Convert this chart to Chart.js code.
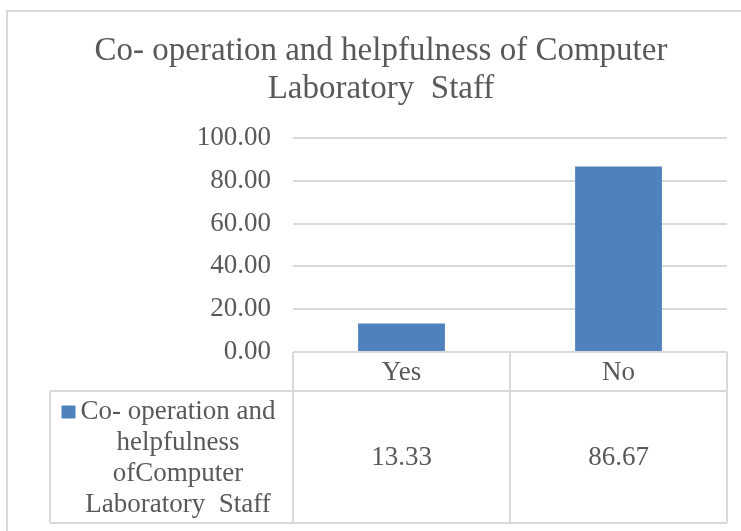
<!DOCTYPE html>
<html>
<head>
<meta charset="utf-8">
<script src="https://cdn.jsdelivr.net/npm/chart.js@4.4.1/dist/chart.umd.min.js"></script>
<style>
  html, body { margin: 0; padding: 0; background: #fff; }
  #wrap { position: relative; width: 741px; height: 531px; overflow: hidden; }
</style>
</head>
<body>
<div id="wrap"><canvas id="chart" width="741" height="531"></canvas></div>
<script>
// 資料
const categories = ['Yes', 'No'];
const seriesName = 'Co- operation and helpfulness of Computer Laboratory  Staff';
const seriesValues = [13.33, 86.67];
const yTicks = [0, 20, 40, 60, 80, 100];
const titleLines = ['Co- operation and helpfulness of Computer', 'Laboratory  Staff'];
const legendLines = ['Co- operation and', 'helpfulness', 'ofComputer', 'Laboratory  Staff'];

const FONT = "'Liberation Serif', 'Times New Roman', serif";
const TEXT = '#595959';
const LINE = '#d9d9d9';
const BAR = '#4f81bd';

// 外框、標題 + 資料表
const tablePlugin = {
    id: 'dataTable',
    beforeDraw(chart) {
        const ctx = chart.ctx;
        ctx.save();
        ctx.strokeStyle = LINE;
        ctx.lineWidth = 2;
        ctx.strokeRect(7, 11, 760, 540);

        // 標題（圖框延伸到畫面右外側，所以中心偏右）
        ctx.fillStyle = TEXT;
        ctx.font = '33px ' + FONT;
        ctx.textAlign = 'center';
        ctx.textBaseline = 'middle';
        titleLines.forEach((t, i) => ctx.fillText(t, 381, 51 + i * 38));
        ctx.restore();
    },
    afterDraw(chart) {
        const ctx = chart.ctx;
        const area = chart.chartArea;
        const xs = chart.scales.x;
        const half = (xs.getPixelForValue(1) - xs.getPixelForValue(0)) / 2;
        const cols = categories.map((c, i) => xs.getPixelForValue(i) - half);
        cols.push(area.right);
        const top = area.bottom;
        const rowH = 39;
        const bottom = 523;
        const labelLeft = 50;

        ctx.save();
        ctx.strokeStyle = LINE;
        ctx.lineWidth = 2;
        ctx.beginPath();
        ctx.moveTo(area.left, top); ctx.lineTo(area.right, top);
        ctx.moveTo(labelLeft, top + rowH); ctx.lineTo(area.right, top + rowH);
        ctx.moveTo(labelLeft, bottom); ctx.lineTo(area.right, bottom);
        cols.forEach(x => { ctx.moveTo(x, top); ctx.lineTo(x, bottom); });
        ctx.moveTo(labelLeft, top + rowH); ctx.lineTo(labelLeft, bottom);
        ctx.stroke();

        ctx.fillStyle = TEXT;
        ctx.font = '27px ' + FONT;
        ctx.textAlign = 'center';
        ctx.textBaseline = 'middle';
        categories.forEach((c, i) => {
            const cx = xs.getPixelForValue(i);
            ctx.fillText(c, cx, top + rowH / 2 + 1);
            ctx.fillText(seriesValues[i].toFixed(2), cx, (top + rowH + bottom) / 2 + 1);
        });

        // 圖例格
        const lineH = 31;
        const y0 = (top + rowH + bottom) / 2 - lineH * (legendLines.length - 1) / 2 + 1;
        legendLines.forEach((t, i) => ctx.fillText(t, 178, y0 + i * lineH));
        const w0 = ctx.measureText(legendLines[0]).width;
        ctx.fillStyle = BAR;
        ctx.fillRect(178 - w0 / 2 - 19, y0 - 6, 14, 13);
        ctx.restore();
    }
};

new Chart(document.getElementById('chart'), {
    type: 'bar',
    data: {
        labels: categories,
        datasets: [{
            label: seriesName,
            data: seriesValues,
            backgroundColor: BAR,
            borderWidth: 0,
            categoryPercentage: 1,
            barPercentage: 0.4
        }]
    },
    options: {
        responsive: false,
        animation: false,
        layout: { padding: { left: 0, right: 14, top: 138, bottom: 171 } },
        plugins: {
            legend: { display: false },
            tooltip: { enabled: false },
            title: { display: false }
        },
        scales: {
            x: {
                ticks: { display: false },
                grid: { display: false },
                border: { display: false }
            },
            y: {
                min: 0,
                max: 100,
                afterFit(scale) { scale.width = 293; },
                afterBuildTicks(scale) { scale.ticks = yTicks.map(v => ({ value: v })); },
                ticks: {
                    color: TEXT,
                    padding: 22,
                    font: { family: FONT, size: 27 },
                    callback: v => v.toFixed(2)
                },
                grid: { color: LINE, lineWidth: 2, drawTicks: false },
                border: { display: false }
            }
        }
    },
    plugins: [tablePlugin]
});
</script>
</body>
</html>
